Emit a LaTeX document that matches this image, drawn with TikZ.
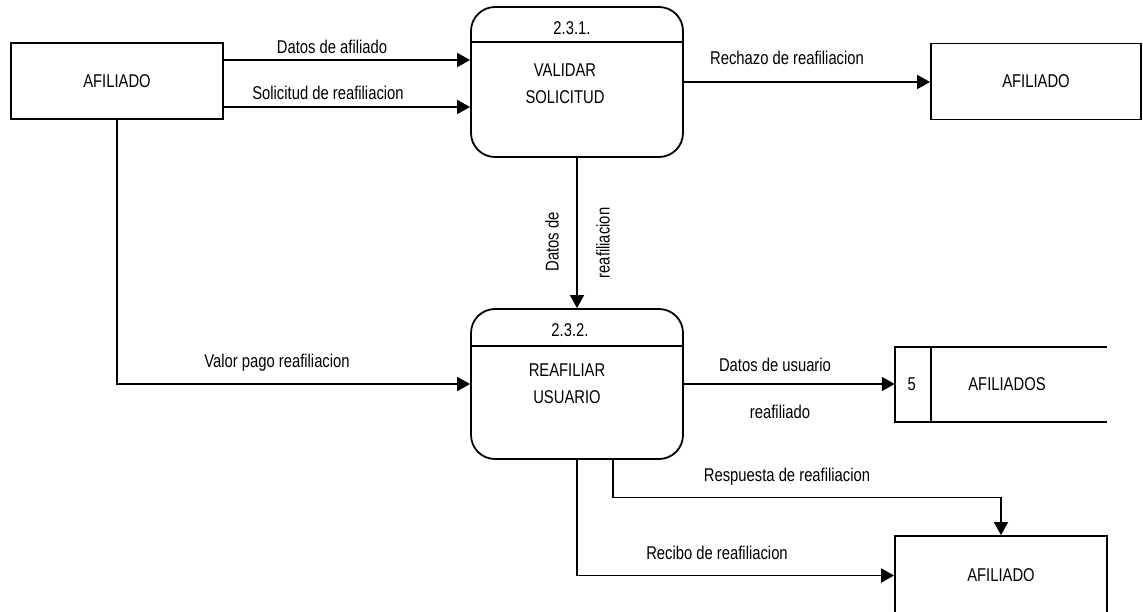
\documentclass[tikz,border=0pt]{standalone}
\usepackage{fontspec}
\setmainfont{Liberation Sans}[FakeStretch=0.8]
\usetikzlibrary{arrows.meta,calc,positioning}

\tikzset{
  ent/.style={draw, line width=1.8pt, minimum width=212pt, minimum height=76pt, inner sep=0pt},
  proc/.style={draw, line width=1.8pt, rounded corners=24pt, minimum width=212pt, minimum height=150pt, inner sep=0pt},
  flow/.style={line width=1.8pt, -{Triangle[length=13pt,width=14pt]}},
  lbl/.style={inner sep=0pt},
}

\begin{document}
\begin{tikzpicture}[x=1pt,y=-1pt,font=\fontsize{18.5}{27}\selectfont]
  \useasboundingbox (0,0) rectangle (1143,611);
  \clip (0,0) rectangle (1143,611);

  % entidades externas
  \node (a1) [ent] at (117,81) {AFILIADO};
  \node (a2) [ent, minimum width=210pt] at (1036,81.5) {AFILIADO};
  \node (a3) [ent, minimum height=79pt] at (1001,575.5) {AFILIADO};

  % procesos
  \node (p1) [proc] at (577,82) {};
  \node (p2) [proc] at (577,384) {};
  \draw[line width=1.8pt] ([yshift=-36pt]p1.north west) -- ([yshift=-36pt]p1.north east);
  \draw[line width=1.8pt] ([yshift=-38pt]p2.north west) -- ([yshift=-38pt]p2.north east);
  \node (n1) [lbl] at (572,28) {2.3.1.};
  \node (t1) [lbl, align=center] at (565,84) {VALIDAR\\SOLICITUD};
  \node (n2) [lbl] at (570,330) {2.3.2.};
  \node (t2) [lbl, align=center] at (567,384) {REAFILIAR\\USUARIO};

  % almacen
  \node (st) [minimum width=212pt, minimum height=75pt] at (1001,384.5) {};
  \draw[line width=1.8pt] (st.north east) -- (st.north west) -- (st.south west) -- (st.south east);
  \draw[line width=1.8pt] ([xshift=36pt]st.north west) -- ([xshift=36pt]st.south west);
  \node (sn) [lbl] at ([xshift=17pt]st.west) {5};
  \node (sl) [lbl] at ([xshift=6pt]st.center) {AFILIADOS};

  % flujos
  \coordinate (d1) at ([yshift=21pt]a1.east);
  \coordinate (d2) at ([yshift=-26pt]a1.east);
  \coordinate (d3) at ([xshift=36pt]p2.south);
  \draw[flow] (d1) -- (p1.west |- d1);
  \draw[flow] (d2) -- (p1.west |- d2);
  \draw[flow] (p1.east) -- (p1.east -| a2.west);
  \draw[flow] (p1.south) -- (p2.north);
  \draw[flow] (a1.south) |- (p2.west);
  \draw[flow] (p2.east) -- (p2.east -| st.west);
  \draw[flow] (p2.south) |- (a3.west);
  \draw[flow] (d3) |- ($(p2.south)!.5!(a3.north)$) -| (a3.north);

  % etiquetas
  \node (f1) [lbl] at (332,47) {Datos de afiliado};
  \node (f2) [lbl] at (328,93) {Solicitud de reafiliacion};
  \node (f3) [lbl] at (787,58) {Rechazo de reafiliacion};
  \node (f4) [lbl, rotate=90] at (552,242) {Datos de};
  \node (f5) [lbl, rotate=90] at (603,243) {reafiliacion};
  \node (f6) [lbl] at (277,363) {Valor pago reafiliacion};
  \node (f7) [lbl] at (775,365) {Datos de usuario};
  \node (f8) [lbl] at (780,412) {reafiliado};
  \node (f9) [lbl] at (787,477) {Respuesta de reafiliacion};
  \node (f10) [lbl] at (717,553) {Recibo de reafiliacion};
\end{tikzpicture}
\end{document}
